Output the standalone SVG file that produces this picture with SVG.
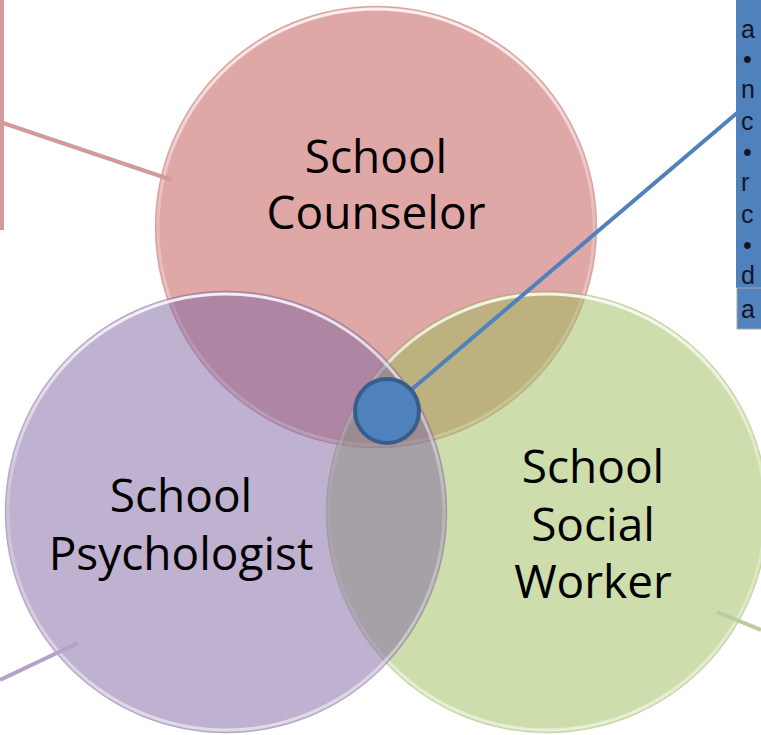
<svg xmlns="http://www.w3.org/2000/svg" width="761" height="735" viewBox="0 0 761 735">
<defs>
<linearGradient id="hl" x1="0" y1="0" x2="0" y2="1">
<stop offset="0" stop-color="#fff" stop-opacity="0.85"/>
<stop offset="0.5" stop-color="#fff" stop-opacity="0.2"/>
<stop offset="1" stop-color="#fff" stop-opacity="0.55"/>
</linearGradient>
<style>
.lbl{font-family:"Open Sans","Liberation Sans",sans-serif;font-size:46px;fill:#000;text-anchor:middle}
.side{font-family:"Liberation Sans",Arial,sans-serif;font-size:25px;fill:#141428}
.ring{fill:none;stroke:url(#hl);stroke-width:3}
.conn{fill:none;stroke-width:4}
</style>
</defs>
<rect width="761" height="735" fill="#fff"/>
<g id="side-boxes">
<rect x="0" y="0" width="4" height="230" fill="#d49a99"/>
<rect x="736" y="0" width="25" height="288" fill="#4f81bd"/>
<rect x="737" y="288" width="26" height="41" fill="#5283bf" stroke="#a8a8a8" stroke-width="1"/>
<text class="side" x="741" y="38">a</text>
<text class="side" x="743" y="68">•</text>
<text class="side" x="741" y="98">n</text>
<text class="side" x="741" y="130">c</text>
<text class="side" x="743" y="161">•</text>
<text class="side" x="741" y="191">r</text>
<text class="side" x="741" y="223">c</text>
<text class="side" x="743" y="254">•</text>
<text class="side" x="741" y="284">d</text>
<text class="side" x="741" y="318">a</text>
</g>
<g id="counselor">
<circle cx="376" cy="227" r="221" fill="#C0504D" fill-opacity="0.5" stroke="#b06060" stroke-opacity="0.2" stroke-width="1"/>
<circle cx="376" cy="227" r="218" class="ring"/>
<text class="lbl" x="376" y="173">School</text>
<text class="lbl" x="376" y="229">Counselor</text>
</g>
<g id="social-worker">
<circle cx="547" cy="512" r="221" fill="#9BBB59" fill-opacity="0.5" stroke="#8aa060" stroke-opacity="0.2" stroke-width="1"/>
<circle cx="547" cy="512" r="218" class="ring"/>
</g>
<g id="psychologist">
<circle cx="226" cy="512" r="221" fill="#8064A2" fill-opacity="0.5" stroke="#8070a0" stroke-opacity="0.3" stroke-width="1"/>
<circle cx="226" cy="512" r="218" class="ring"/>
</g>
<g id="labels">
<text class="lbl" x="181" y="512">School</text>
<text class="lbl" x="181" y="570">Psychologist</text>
<text class="lbl" x="593" y="483">School</text>
<text class="lbl" x="593" y="541">Social</text>
<text class="lbl" x="593" y="598">Worker</text>
</g>
<g id="connectors">
<line class="conn" x1="3" y1="123" x2="172" y2="180" stroke="#d49a99"/>
<line class="conn" x1="0" y1="680" x2="78" y2="643" stroke="#b3a3c8"/>
<line class="conn" x1="717" y1="612" x2="761" y2="630" stroke="#bccca0"/>
<line class="conn" x1="411" y1="390" x2="737" y2="113" stroke="#4f81bd"/>
</g>
<g id="center">
<circle cx="387" cy="411" r="32" fill="#4f81bd" stroke="#385d8a" stroke-width="4"/>
</g>
</svg>
